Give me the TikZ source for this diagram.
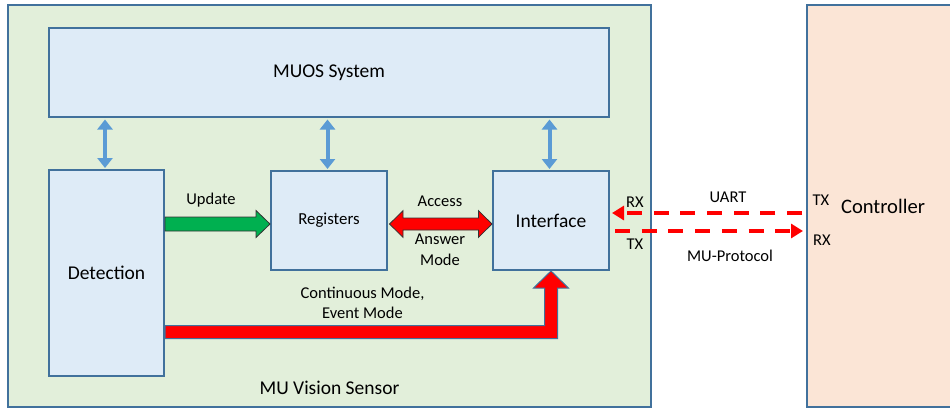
\documentclass[tikz,border=0pt]{standalone}
\usepackage{fontspec}
\setmainfont{Carlito}
\usetikzlibrary{arrows.meta,calc}
\definecolor{sensorfill}{RGB}{226,239,218}
\definecolor{blockfill}{RGB}{222,235,247}
\definecolor{controllerfill}{RGB}{251,229,214}
\definecolor{frame}{RGB}{65,113,156}
\definecolor{busblue}{RGB}{91,155,213}
\definecolor{updategreen}{RGB}{0,176,80}
\definecolor{signalred}{RGB}{255,0,0}
\tikzstyle{framebox}=[draw=frame, line width=2pt, inner sep=0pt, font=\fontsize{19.5}{23}\selectfont]
\tikzstyle{blockbox}=[framebox, fill=blockfill]
\tikzstyle{textlabel}=[inner sep=0pt, align=center, font=\fontsize{16.5}{20.5}\selectfont]
\tikzstyle{busarrow}=[busblue, line width=4pt, {Triangle[length=10pt,width=15pt]}-{Triangle[length=10pt,width=15pt]}]
\tikzstyle{uartline}=[signalred, line width=4.5pt, dash pattern=on 15pt off 11.7pt, -{Triangle[length=12pt,width=14pt]}]
\tikzstyle{updatearrow}=[fill=updategreen, draw=black!80, line width=0.8pt]
\tikzstyle{accessarrow}=[fill=signalred, draw=black!80, line width=0.8pt]
\tikzstyle{modearrow}=[fill=signalred, draw=frame, line width=1pt]

\begin{document}
\begin{tikzpicture}[x=1pt, y=-1pt]
            \useasboundingbox (0,0) rectangle (950,410);

            \node[framebox, fill=sensorfill, minimum width=643pt, minimum height=402pt] (sensor) at (329.5,206) {};
            \node[framebox, fill=controllerfill, font=\fontsize{20.6}{24}\selectfont,
                minimum width=152pt, minimum height=402pt] (ctrl) at (883,206) {Controller};

            \node[blockbox, minimum width=560pt, minimum height=89pt] (muos) at (329,72.5) {MUOS System};
            \node[blockbox, minimum width=115pt, minimum height=206pt] (det) at (106.5,273) {Detection};
            \node[blockbox, font=\fontsize{16.8}{20}\selectfont,
                minimum width=116pt, minimum height=99pt] (reg) at (329,220.5) {Registers};
            \node[blockbox, minimum width=116pt, minimum height=99pt] (intf) at (551,220.5) {Interface};
            \node[inner sep=0pt, font=\fontsize{19.5}{23}\selectfont] (senslbl) at (329.5,388) {MU Vision Sensor};

            \foreach \blk in {det, reg, intf}
                \draw[busarrow] ($(\blk.north)+(-1.5,-1)$) -- ($(\blk.north |- muos.south)+(-1.5,1.5)$);

            \coordinate (updtip) at ($(reg.west)+(0,3.5)$);
            \filldraw[updatearrow] let \p1=(det.east), \p2=(updtip) in
                (\p2) -- (\x2-14pt,\y2+13.5pt) -- (\x2-14pt,\y2+7pt) -- (\x1,\y2+7pt)
                -- (\x1,\y2-7pt) -- (\x2-14pt,\y2-7pt) -- (\x2-14pt,\y2-13.5pt) -- cycle;

            \coordinate (accleft) at ($(reg.east)+(1.5,3.5)$);
            \coordinate (accright) at ($(intf.west)+(0,3.5)$);
            \filldraw[accessarrow] let \p1=(accleft), \p2=(accright) in
                (\p1) -- (\x1+13.5pt,\y1+13.3pt) -- (\x1+13.5pt,\y1+6pt) -- (\x2-13.5pt,\y2+6pt)
                -- (\x2-13.5pt,\y2+13.3pt) -- (\p2) -- (\x2-13.5pt,\y2-13.3pt) -- (\x2-13.5pt,\y2-6pt)
                -- (\x1+13.5pt,\y1-6pt) -- (\x1+13.5pt,\y1-13.3pt) -- cycle;

            \coordinate (modestart) at ($(det.east)+(0,59)$);
            \filldraw[modearrow] let \p1=(modestart), \p2=(intf.south) in
                (\p2) -- (\x2+17.5pt,\y2-17pt) -- (\x2+6.5pt,\y2-17pt) -- (\x2+6.5pt,\y1-6.5pt)
                -- (\x1,\y1-6.5pt) -- (\x1,\y1+6.5pt) -- (\x2-6.5pt,\y1+6.5pt)
                -- (\x2-6.5pt,\y2-17pt) -- (\x2-17.5pt,\y2-17pt) -- cycle;

            \draw[uartline] ($(ctrl.west |- intf.east)+(-4,-7.5)$) -- ($(intf.east)+(2,-7.5)$);
            \draw[uartline] ($(intf.east)+(5,10.5)$) -- ($(ctrl.west |- intf.east)+(-3,10.5)$);

            \node[textlabel] (updlbl) at (211,200) {Update};
            \node[textlabel] (acclbl) at (440,201) {Access};
            \node[textlabel] (anslbl) at (440,250) {Answer\\Mode};
            \node[textlabel] (modelbl) at (362.5,303) {Continuous Mode,\\Event Mode};

            \node[textlabel] (rxintf) at (635,202) {RX};
            \node[textlabel] (txintf) at (635,244) {TX};
            \node[textlabel] (uartlbl) at (728,197) {UART};
            \node[textlabel] (protolbl) at (730,256) {MU-Protocol};
            \node[textlabel] (txctrl) at (821,200) {TX};
            \node[textlabel] (rxctrl) at (822,240) {RX};
        \end{tikzpicture}
\end{document}
